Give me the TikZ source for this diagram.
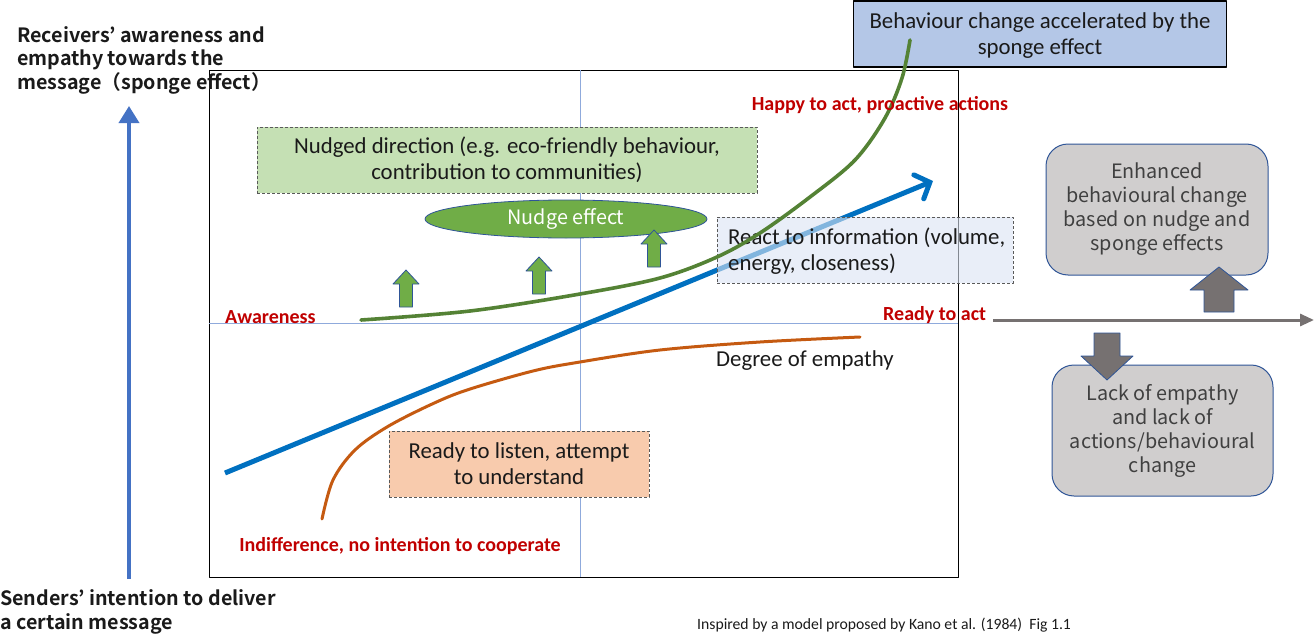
\documentclass[tikz,border=0pt]{standalone}
\usepackage{fontspec}
\setmainfont{Carlito}
\newfontfamily\jpfont{Noto Sans CJK JP}[BoldFont={Noto Sans CJK JP Bold}]
\usetikzlibrary{arrows.meta,shapes.geometric}

\definecolor{axisblue}{HTML}{4472C4}
\definecolor{gridblue}{HTML}{8FAADC}
\definecolor{curvegreen}{HTML}{548235}
\definecolor{nudgegreen}{HTML}{70AD47}
\definecolor{palegreen}{HTML}{C5E0B4}
\definecolor{paleblue}{HTML}{DAE3F3}
\definecolor{topblue}{HTML}{B4C7E7}
\definecolor{strongblue}{HTML}{0070C0}
\definecolor{burnt}{HTML}{C55A11}
\definecolor{peach}{HTML}{F8CBAD}
\definecolor{darkred}{HTML}{C00000}
\definecolor{greyfill}{HTML}{D0CECE}
\definecolor{greydark}{HTML}{767171}
\definecolor{outline}{HTML}{2F5597}
\definecolor{dashgrey}{HTML}{595959}
\definecolor{inktext}{HTML}{1A1A1A}
\definecolor{greytext}{HTML}{404040}

% block arrow pointing up: x, bottom y, shaft half width, head half width, head height, total height, style
\newcommand{\blockup}[7]{%
  \path[#7] (#1-#3,#2) -- (#1-#3,#2-#6+#5) -- (#1-#4,#2-#6+#5) -- (#1,#2-#6)
    -- (#1+#4,#2-#6+#5) -- (#1+#3,#2-#6+#5) -- (#1+#3,#2) -- cycle;}
% block arrow pointing down: x, top y, shaft half width, head half width, head height, total height, style
\newcommand{\blockdown}[7]{%
  \path[#7] (#1-#3,#2) -- (#1-#3,#2+#6-#5) -- (#1-#4,#2+#6-#5) -- (#1,#2+#6)
    -- (#1+#4,#2+#6-#5) -- (#1+#3,#2+#6-#5) -- (#1+#3,#2) -- cycle;}

\begin{document}
\begin{tikzpicture}[x=1pt,y=-1pt,line join=round,
  redlabel/.style={inner sep=0pt,text=darkred,font=\fontsize{20}{24}\selectfont\bfseries},
  axislabel/.style={inner sep=0pt,align=left,text=inktext,font=\jpfont\bfseries\fontsize{19.7}{23.5}\selectfont},
  dashbox/.style={draw=dashgrey,dash pattern=on 3pt off 2pt,line width=0.9pt,inner sep=0pt,
    align=center,text=inktext,font=\fontsize{22.8}{26}\selectfont},
  greybox/.style={draw=outline,fill=greyfill,rounded corners=22pt,line width=1pt,inner sep=0pt,
    align=center,text=greytext,font=\jpfont\fontsize{19.8}{24}\selectfont},
  smallup/.style={fill=nudgegreen,draw=outline,line width=0.8pt},
  bigarrow/.style={fill=greydark,draw=outline,line width=0.8pt},
  gridline/.style={draw=gridblue,line width=0.9pt}]

\useasboundingbox (0,0) rectangle (1314,634);

% quadrant frame and the two centre lines
\node[draw=black,line width=1.1pt,minimum width=749pt,minimum height=507pt,inner sep=0pt,anchor=north west]
  (frame) at (209,70) {};
\coordinate (vtop) at (580,70);
\coordinate (vbot) at (580,577);
\coordinate (hleft) at (209,323);
\coordinate (hright) at (958,323);
\draw[gridline] (vtop) -- (vbot);
\draw[gridline] (hleft) -- (hright);

% vertical axis of the sender
\coordinate (axisbot) at (129,579);
\coordinate (axistop) at (129,106);
\draw[axisblue,line width=3.6pt,-{Triangle[length=17pt,width=20pt]}] (axisbot) -- (axistop);

\node[axislabel,anchor=west] (recv) at (17,60)
  {Receivers’ awareness and\\empathy towards the\\message（sponge effect）};
\node[axislabel,anchor=west] (send) at (0,612)
  {Senders’ intention to deliver\\a certain message};

% shaded boxes inside the frame
\node[dashbox,fill=palegreen,minimum width=500pt,minimum height=66pt] (nudged) at (507,160)
  {Nudged direction (e.g. eco-friendly behaviour,\\contribution to communities)};
\node[dashbox,fill=peach,minimum width=260pt,minimum height=66pt] (listen) at (519,464)
  {Ready to listen, attempt\\to understand};

\node[ellipse,fill=nudgegreen,draw=outline,line width=0.8pt,minimum width=282pt,minimum height=38pt,
  inner sep=0pt,text=white,font=\jpfont\fontsize{19.8}{22}\selectfont] (nudge) at (566,219) {Nudge effect};

\blockup{406}{307}{6.5}{13}{14}{37}{smallup}
\blockup{539}{294}{6.5}{13}{14}{37}{smallup}
\blockup{654}{267}{6.5}{13}{14}{37}{smallup}

% degree of empathy curve
\draw[burnt,line width=3pt,line cap=round] plot[smooth,tension=0.55] coordinates
  {(322,519) (333,480) (355,450) (387,427) (430,405) (467,390) (533,371) (580,362) (660,350) (760,342) (860,337)};

% sender intention arrow
\coordinate (bstart) at (225,473);
\coordinate (bend) at (933,181);
\draw[strongblue,line width=5pt,-{Straight Barb[length=12pt,width=26pt,line cap=round]}] (bstart) -- (bend);

% translucent information box over the arrow, text set flush left inside it
\node[draw=dashgrey,dash pattern=on 3pt off 2pt,line width=0.9pt,fill=paleblue,fill opacity=0.6,
  minimum width=296pt,minimum height=66pt,inner sep=0pt] (react) at (865,250) {};
\node[inner sep=0pt,anchor=west,align=left,text=inktext,font=\fontsize{22.8}{26}\selectfont]
  (reacttext) at (728,251) {React to information (volume,\\energy, closeness)};

\node[draw=black,line width=1.2pt,fill=topblue,minimum width=373pt,minimum height=66pt,inner sep=0pt,
  align=center,text=inktext,font=\fontsize{22.8}{26}\selectfont] (accel) at (1040,34) {};
\node[inner sep=0pt,align=center,text=inktext,font=\fontsize{22.8}{26}\selectfont]
  (acceltext) at (1040,36) {Behaviour change accelerated by the\\sponge effect};

% awareness curve
\draw[curvegreen,line width=3.6pt,line cap=round] plot[smooth,tension=0.55] coordinates
  {(361,320) (470,311) (580,294) (660,278) (717,257) (760,233) (810,197) (855,160) (885,118) (902,78) (910,40)};

% stage labels
\node[redlabel] (happy) at (880,105) {Happy to act, proactive actions};
\node[redlabel,anchor=west] (aware) at (225,317) {Awareness};
\node[redlabel,anchor=west] (ready) at (883,315) {Ready to act};
\node[redlabel] (indiff) at (400,546) {Indifference, no intention to cooperate};
\node[inner sep=0pt,anchor=west,text=inktext,font=\fontsize{22.8}{26}\selectfont] (empathy) at (716,361) {Degree of empathy};

% outcome side
\coordinate (hend) at (1314,320);
\draw[greydark,line width=3pt,-{Triangle[length=14pt,width=12pt]}] (993,320) -- (hend);

\node[greybox,minimum width=222pt,minimum height=131pt] (enh) at (1157,209.5)
  {Enhanced\\behavioural change\\based on nudge and\\sponge effects};
\node[greybox,minimum width=221pt,minimum height=131pt] (lack) at (1162.5,430.5)
  {Lack of empathy\\and lack of\\actions/behavioural\\change};

\blockup{1219}{312}{15}{29}{23}{45}{bigarrow}
\blockdown{1107}{333}{13}{26}{24}{47}{bigarrow}

\node[inner sep=0pt,anchor=west,text=inktext,font=\fontsize{15.7}{18}\selectfont] (credit) at (697,625)
  {Inspired by a model proposed by Kano et al. (1984)\ \ Fig 1.1};
\end{tikzpicture}
\end{document}
